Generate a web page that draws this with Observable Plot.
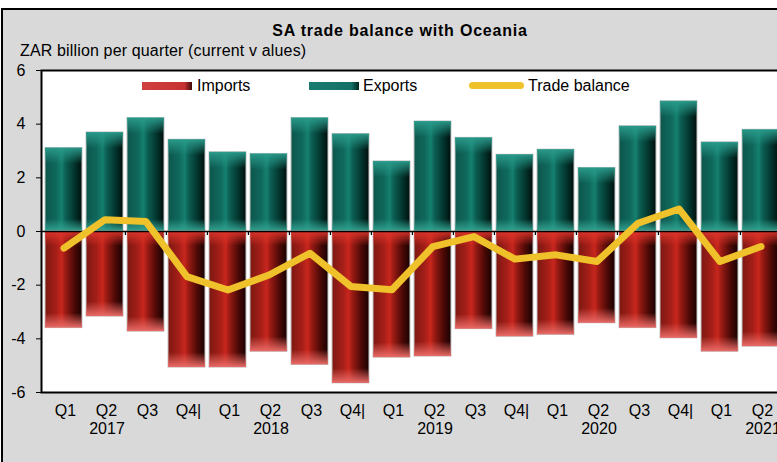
<!DOCTYPE html>
<html>
<head>
<meta charset="utf-8">
<script src="https://cdn.jsdelivr.net/npm/d3@7"></script>
<script src="https://cdn.jsdelivr.net/npm/@observablehq/plot@0.6"></script>
<style>
  html, body { margin: 0; padding: 0; width: 777px; height: 462px; overflow: hidden; background: #fff; }
  body { position: relative; font-family: "Liberation Sans", Arial, sans-serif; }
  #frame { position: absolute; left: 1px; top: 8px; width: 820px; height: 480px; border: 2px solid #000; background: #d9d9d9; }
  #title { position: absolute; left: 200px; width: 400px; top: 22px; line-height: 18px; text-align: center; font-weight: bold; font-size: 16px; letter-spacing: 0.8px; color: #000; }
  #ylab { position: absolute; left: 20px; top: 42px; line-height: 18px; font-size: 16px; letter-spacing: 0.15px; color: #000; }
  #chart { position: absolute; left: 0; top: 60px; }
  #chart svg { max-width: none !important; }
  .lg { position: absolute; top: 77px; line-height: 18px; font-size: 16px; color: #000; }
  .sw { position: absolute; }
</style>
</head>
<body>
<div id="frame"></div>
<div id="title">SA trade balance with Oceania</div>
<div id="ylab">ZAR billion per quarter (current v alues)</div>
<div id="chart"></div>
<div class="sw" style="left:142px;top:82px;width:50px;height:8px;background:linear-gradient(to right,#d04040,#c83030 85%,#3a0a08);"></div>
<div class="lg" style="left:197px;">Imports</div>
<div class="sw" style="left:309px;top:82px;width:50px;height:8px;background:linear-gradient(to right,#1a7c70,#147066 85%,#02241f);"></div>
<div class="lg" style="left:363px;">Exports</div>
<div class="sw" style="left:469px;top:82px;width:55px;height:7px;border-radius:4px;background:#efc12a;"></div>
<div class="lg" style="left:528px;">Trade balance</div>
<script>
const quarters = ["2017 Q1","2017 Q2","2017 Q3","2017 Q4","2018 Q1","2018 Q2","2018 Q3","2018 Q4","2019 Q1","2019 Q2","2019 Q3","2019 Q4","2020 Q1","2020 Q2","2020 Q3","2020 Q4","2021 Q1","2021 Q2"];
const quarterLabels = ["Q1","Q2","Q3","Q4|","Q1","Q2","Q3","Q4|","Q1","Q2","Q3","Q4|","Q1","Q2","Q3","Q4|","Q1","Q2"];
const years = ["2017","2018","2019","2020","2021"];
const yearAnchors = ["2017 Q2","2018 Q2","2019 Q2","2020 Q2","2021 Q2"];
const exportsVals = [3.11,3.69,4.23,3.42,2.95,2.89,4.23,3.63,2.61,4.10,3.49,2.86,3.05,2.37,3.92,4.85,3.32,3.79];
const importsVals = [-3.60,-3.17,-3.73,-5.07,-5.07,-4.48,-4.97,-5.66,-4.70,-4.66,-3.64,-3.92,-3.85,-3.42,-3.60,-3.98,-4.48,-4.29];
const balanceVals = [-0.62,0.44,0.37,-1.68,-2.18,-1.62,-0.81,-2.05,-2.17,-0.56,-0.19,-1.03,-0.87,-1.12,0.31,0.84,-1.12,-0.56];
const yTicks = [-6,-4,-2,0,2,4,6];

const W = 790, ML = 41, MR = 7;
const step = (W - ML - MR) / quarters.length;

const idx = d3.range(quarters.length);
const svg = Plot.plot({
  width: W,
  height: 402,
  marginLeft: ML,
  marginRight: MR,
  marginTop: 10,
  marginBottom: 70,
  style: {background: "transparent", fontFamily: "Liberation Sans, Arial, sans-serif", fontSize: "16px", color: "#000", maxWidth: "none"},
  x: {type: "band", domain: quarters, paddingInner: 0.1, paddingOuter: 0.05, axis: null},
  y: {domain: [-6, 6], ticks: yTicks, axis: null},
  marks: [
    Plot.frame({fill: "white"}),
    Plot.barY(idx, {x: i => quarters[i], y: i => exportsVals[i], fill: "url(#expGrad)", stroke: "#c4c4c4", strokeWidth: 1}),
    Plot.barY(idx, {x: i => quarters[i], y1: 0, y2: 0.45, fill: "url(#expBot)"}),
    Plot.barY(idx, {x: i => quarters[i], y1: i => exportsVals[i], y2: i => exportsVals[i] - 0.6, fill: "url(#expTop)"}),
    Plot.barY(idx, {x: i => quarters[i], y: i => importsVals[i], fill: "url(#impGrad)", stroke: "#c4c4c4", strokeWidth: 1}),
    Plot.barY(idx, {x: i => quarters[i], y1: 0, y2: -0.55, fill: "url(#impTop)"}),
    Plot.barY(idx, {x: i => quarters[i], y1: i => importsVals[i], y2: i => importsVals[i] + 0.55, fill: "url(#impBot)"}),
    Plot.ruleY([0], {stroke: "#000", strokeWidth: 1.5}),
    Plot.ruleX(quarters.slice(1), {x: d => d, y1: 0, y2: -0.15, dx: -step / 2, stroke: "#000", strokeWidth: 1.2}),
    Plot.line(idx, {x: i => quarters[i], y: i => balanceVals[i], stroke: "#efc12a", strokeWidth: 7, strokeLinecap: "round", strokeLinejoin: "round"}),
    Plot.axisY({ticks: yTicks, tickSize: 5, tickPadding: 11, tickFormat: d => String(d), fontSize: 16, stroke: "#000"}),
    Plot.text(idx, {x: i => quarters[i], text: i => quarterLabels[i], frameAnchor: "bottom", dx: 1.5, dy: 23, fontSize: 16, fill: "#000"}),
    Plot.text(years, {x: (d, i) => yearAnchors[i], text: d => d, frameAnchor: "bottom", dx: 2, dy: 41, fontSize: 16, fill: "#000"}),
    Plot.frame({stroke: "#000", strokeWidth: 2})
  ]
});

svg.insertAdjacentHTML("afterbegin", `
<defs>
  <linearGradient id="expGrad" x1="0" y1="0" x2="1" y2="0">
    <stop offset="0" stop-color="#0d564c"/>
    <stop offset="0.3" stop-color="#0f685c"/>
    <stop offset="0.45" stop-color="#15806f"/>
    <stop offset="0.55" stop-color="#0c6054"/>
    <stop offset="0.8" stop-color="#03342d"/>
    <stop offset="1" stop-color="#000e0c"/>
  </linearGradient>
  <linearGradient id="expTop" x1="0" y1="0" x2="0" y2="1">
    <stop offset="0" stop-color="#2a9c8c" stop-opacity="0.95"/>
    <stop offset="1" stop-color="#2a9c8c" stop-opacity="0"/>
  </linearGradient>
  <linearGradient id="expBot" x1="0" y1="1" x2="0" y2="0">
    <stop offset="0" stop-color="#35a593" stop-opacity="0.95"/>
    <stop offset="1" stop-color="#35a593" stop-opacity="0"/>
  </linearGradient>
  <linearGradient id="impGrad" x1="0" y1="0" x2="1" y2="0">
    <stop offset="0" stop-color="#7c1812"/>
    <stop offset="0.3" stop-color="#a61f18"/>
    <stop offset="0.45" stop-color="#c8261d"/>
    <stop offset="0.55" stop-color="#9a1b14"/>
    <stop offset="0.8" stop-color="#4a0906"/>
    <stop offset="1" stop-color="#170201"/>
  </linearGradient>
  <linearGradient id="impTop" x1="0" y1="0" x2="0" y2="1">
    <stop offset="0" stop-color="#e0352b" stop-opacity="0.95"/>
    <stop offset="1" stop-color="#e0352b" stop-opacity="0"/>
  </linearGradient>
  <linearGradient id="impBot" x1="0" y1="1" x2="0" y2="0">
    <stop offset="0" stop-color="#e86a66" stop-opacity="1"/>
    <stop offset="1" stop-color="#e86a66" stop-opacity="0"/>
  </linearGradient>
</defs>`);

document.getElementById("chart").appendChild(svg);
</script>
</body>
</html>
